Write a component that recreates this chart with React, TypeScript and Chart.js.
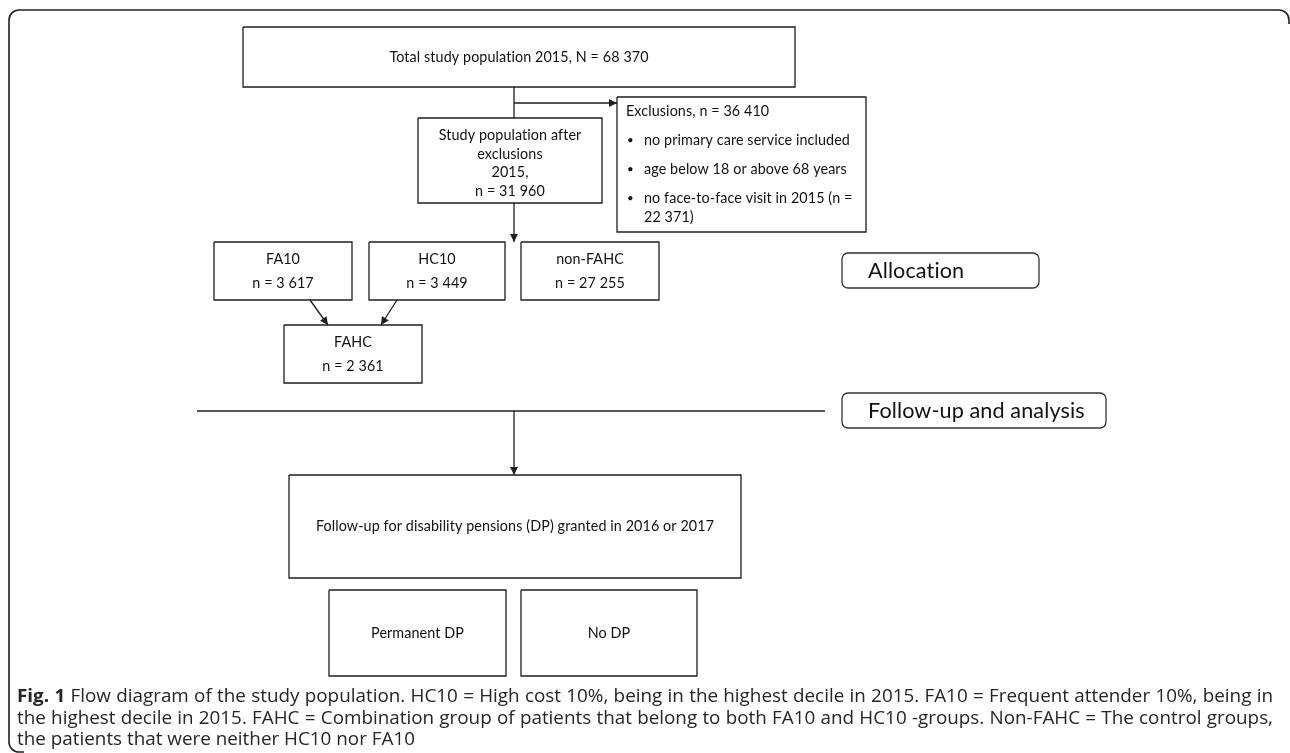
import React, { useEffect, useRef } from "react";
import { Chart, registerables } from "chart.js";

Chart.register(...registerables);

const CANVAS_W = 1290;
const CANVAS_H = 753;

// ---------- content ----------
const nodeTexts: string[][] = [
  ["Total study population 2015, N = 68 370"],
  ["Study population after", "exclusions", "2015,", "n = 31 960"],
  ["FA10", "n = 3 617"],
  ["HC10", "n = 3 449"],
  ["non-FAHC", "n = 27 255"],
  ["FAHC", "n = 2 361"],
  ["Follow-up for disability pensions (DP) granted in 2016 or 2017"],
  ["Permanent DP"],
  ["No DP"],
];
const exclusionTitle = "Exclusions, n = 36 410";
const exclusionBullets: string[][] = [
  ["no primary care service included"],
  ["age below 18 or above 68 years"],
  ["no face-to-face visit in 2015 (n =", "22 371)"],
];
const phaseTexts = ["Allocation", "Follow-up and analysis"];
const captionLead = "Fig. 1";
const captionLines = [
  "Flow diagram of the study population. HC10 = High cost 10%, being in the highest decile in 2015. FA10 = Frequent attender 10%, being in",
  "the highest decile in 2015. FAHC = Combination group of patients that belong to both FA10 and HC10 -groups. Non-FAHC = The control groups,",
  "the patients that were neither HC10 nor FA10",
];

// ---------- layout (figure coordinates) ----------
const nodeBoxes: number[][] = [
  [243, 27, 795, 87],
  [418, 118, 602, 203],
  [214, 242, 352, 300],
  [369, 242, 505, 300],
  [521, 242, 659, 300],
  [284, 325, 422, 383],
  [289, 475, 741, 578],
  [329, 590, 506, 676],
  [521, 590, 697, 676],
];
const nodeLineGap = [0, 18.7, 24, 24, 24, 24, 0, 0, 0];
const nodeTextDy = [0, 3, 0, 0, 0, 0, 0, 0, 0];
const exclusionBox = [617, 97, 866, 232];
const exclusionTitleY = 111;
const exclusionBulletY = [[140], [169], [198, 217]];
const phaseBoxes: number[][] = [
  [842, 253, 1039, 288],
  [842, 393, 1106, 428],
];
const connectorPaths: number[][][] = [
  [[514, 87], [514, 118]],
  [[514, 103], [617, 103]],
  [[514, 203], [514, 242]],
  [[310, 300], [328, 325]],
  [[397, 300], [381, 325]],
  [[197, 411], [825, 411]],
  [[514, 411], [514, 475]],
];
const connectorArrow = [false, true, true, true, true, false, true];
const captionY = [697, 719, 740];
const captionX = [17, 1273];

const LINE = "#1f1f1f";
const TEXT = "#111111";
const BOX_FONT = "Lato, 'Open Sans', 'DejaVu Sans', sans-serif";
const CAP_FONT = "'Open Sans', 'Noto Sans', 'DejaVu Sans', sans-serif";

function rectPts(b: number[]) {
  return [
    { x: b[0], y: b[1] },
    { x: b[2], y: b[1] },
    { x: b[2], y: b[3] },
    { x: b[0], y: b[3] },
    { x: b[0], y: b[1] },
  ];
}

const lineDs = (data: { x: number; y: number }[]) => ({
  data,
  showLine: true,
  borderColor: LINE,
  borderWidth: 1.3,
  pointRadius: 0,
  fill: false,
  tension: 0,
  clip: false as any,
});

const diagramPlugin = {
  id: "diagram",
  beforeDraw(chart: any) {
    const ctx = chart.ctx as CanvasRenderingContext2D;
    ctx.save();
    ctx.fillStyle = "#ffffff";
    ctx.fillRect(0, 0, chart.width, chart.height);
    ctx.restore();
  },
  afterDatasetsDraw(chart: any) {
    const ctx = chart.ctx as CanvasRenderingContext2D;
    const xs = chart.scales.x;
    const ys = chart.scales.y;
    const px = (v: number) => xs.getPixelForValue(v);
    const py = (v: number) => ys.getPixelForValue(v);

    ctx.save();
    // outer frame: top and left edges with rounded corners
    ctx.strokeStyle = "#222";
    ctx.lineWidth = 1.6;
    ctx.beginPath();
    ctx.moveTo(px(1289), py(24));
    ctx.arcTo(px(1289), py(10), px(1275), py(10), 10);
    ctx.lineTo(px(19), py(10));
    ctx.arcTo(px(9), py(10), px(9), py(20), 10);
    ctx.lineTo(px(9), py(742));
    ctx.arcTo(px(9), py(752), px(19), py(752), 10);
    ctx.lineTo(px(24), py(752));
    ctx.stroke();

    // arrowheads
    ctx.fillStyle = LINE;
    connectorPaths.forEach((p, i) => {
      if (!connectorArrow[i]) return;
      const a = p[p.length - 2];
      const b = p[p.length - 1];
      const x1 = px(a[0]), y1 = py(a[1]), x2 = px(b[0]), y2 = py(b[1]);
      const ang = Math.atan2(y2 - y1, x2 - x1);
      const L = 8, Wd = 4;
      ctx.beginPath();
      ctx.moveTo(x2, y2);
      ctx.lineTo(x2 - L * Math.cos(ang) + Wd * Math.sin(ang), y2 - L * Math.sin(ang) - Wd * Math.cos(ang));
      ctx.lineTo(x2 - L * Math.cos(ang) - Wd * Math.sin(ang), y2 - L * Math.sin(ang) + Wd * Math.cos(ang));
      ctx.closePath();
      ctx.fill();
    });

    // phase boxes (rounded)
    ctx.strokeStyle = "#333";
    ctx.lineWidth = 1.3;
    phaseBoxes.forEach((b) => {
      ctx.beginPath();
      (ctx as any).roundRect(px(b[0]), py(b[1]), px(b[2]) - px(b[0]), py(b[3]) - py(b[1]), 6);
      ctx.stroke();
    });

    // avoid font ligatures
    (ctx as any).letterSpacing = "0.1px";

    // box font size fitted to the reference text width
    ctx.font = `100px ${BOX_FONT}`;
    const w100 = ctx.measureText(nodeTexts[0][0]).width;
    const boxSize = (100 * 256) / w100;
    const p100 = ctx.measureText(phaseTexts[1]).width;
    const phaseSize = (100 * 215) / p100;

    ctx.fillStyle = TEXT;
    ctx.textBaseline = "middle";
    ctx.textAlign = "center";
    ctx.font = `${boxSize}px ${BOX_FONT}`;
    nodeTexts.forEach((lines, i) => {
      const b = nodeBoxes[i];
      const cx = (b[0] + b[2]) / 2;
      const cy = (b[1] + b[3]) / 2 + nodeTextDy[i];
      const gap = nodeLineGap[i];
      lines.forEach((t, k) => {
        const y = cy + (k - (lines.length - 1) / 2) * gap;
        ctx.fillText(t, px(cx), py(y));
      });
    });

    // exclusions
    ctx.textAlign = "left";
    ctx.fillText(exclusionTitle, px(exclusionBox[0] + 9), py(exclusionTitleY));
    exclusionBullets.forEach((lines, i) => {
      ctx.font = `${boxSize * 0.8}px ${BOX_FONT}`;
      ctx.fillText("•", px(exclusionBox[0] + 10), py(exclusionBulletY[i][0]));
      ctx.font = `${boxSize}px ${BOX_FONT}`;
      lines.forEach((t, k) => {
        ctx.fillText(t, px(exclusionBox[0] + 27), py(exclusionBulletY[i][k]));
      });
    });

    // phase labels
    ctx.font = `${phaseSize}px ${BOX_FONT}`;
    phaseTexts.forEach((t, i) => {
      const b = phaseBoxes[i];
      ctx.fillText(t, px(b[0] + 26), py((b[1] + b[3]) / 2 + 0.5));
    });

    // caption (condensed, justified)
    (ctx as any).letterSpacing = "0px";
    const capSize = 18;
    ctx.fillStyle = "#262626";
    ctx.font = `${capSize}px ${CAP_FONT}`;
    const natural2 = ctx.measureText(captionLines[1]).width;
    const sx = 1248 / natural2;
    const targetW = (px(captionX[1]) - px(captionX[0])) / sx;
    captionLines.forEach((line, li) => {
      const tokens: { t: string; bold: boolean }[] = [];
      if (li === 0) captionLead.split(" ").forEach((t) => tokens.push({ t, bold: true }));
      line.split(" ").forEach((t) => tokens.push({ t, bold: false }));
      const widths = tokens.map((tk) => {
        ctx.font = `${tk.bold ? "bold " : ""}${capSize}px ${CAP_FONT}`;
        return ctx.measureText(tk.t).width;
      });
      ctx.font = `${capSize}px ${CAP_FONT}`;
      const space = ctx.measureText(" ").width;
      const total = widths.reduce((a, b) => a + b, 0);
      const justify = li < captionLines.length - 1;
      const gap = justify ? (targetW - total) / (tokens.length - 1) : space;
      ctx.save();
      ctx.translate(px(captionX[0]), py(captionY[li]));
      ctx.scale(sx, 1);
      let x = 0;
      tokens.forEach((tk, k) => {
        ctx.font = `${tk.bold ? "bold " : ""}${capSize}px ${CAP_FONT}`;
        ctx.fillText(tk.t, x, 0);
        x += widths[k] + gap;
      });
      ctx.restore();
    });

    ctx.restore();
  },
};

export default function App() {
  const ref = useRef<HTMLCanvasElement>(null);
  useEffect(() => {
    if (!ref.current) return;
    const datasets: any[] = [];
    nodeBoxes.forEach((b) => datasets.push(lineDs(rectPts(b))));
    datasets.push(lineDs(rectPts(exclusionBox)));
    connectorPaths.forEach((p) => datasets.push(lineDs(p.map(([x, y]) => ({ x, y })))));
    const chart = new Chart(ref.current, {
      type: "scatter",
      data: { datasets },
      options: {
        animation: false,
        responsive: false,
        maintainAspectRatio: false,
        events: [],
        layout: { padding: 0 },
        plugins: { legend: { display: false }, tooltip: { enabled: false } },
        scales: {
          x: { type: "linear", min: 0, max: CANVAS_W, display: false },
          y: { type: "linear", min: 0, max: CANVAS_H, reverse: true, display: false },
        },
      },
      plugins: [diagramPlugin as any],
    });
    return () => chart.destroy();
  }, []);
  return (
    <div style={{ position: "absolute", left: 0, top: 0, width: CANVAS_W, height: CANVAS_H }}>
      <canvas
        ref={ref}
        width={CANVAS_W}
        height={CANVAS_H}
        style={{ display: "block", width: CANVAS_W, height: CANVAS_H }}
      />
    </div>
  );
}
